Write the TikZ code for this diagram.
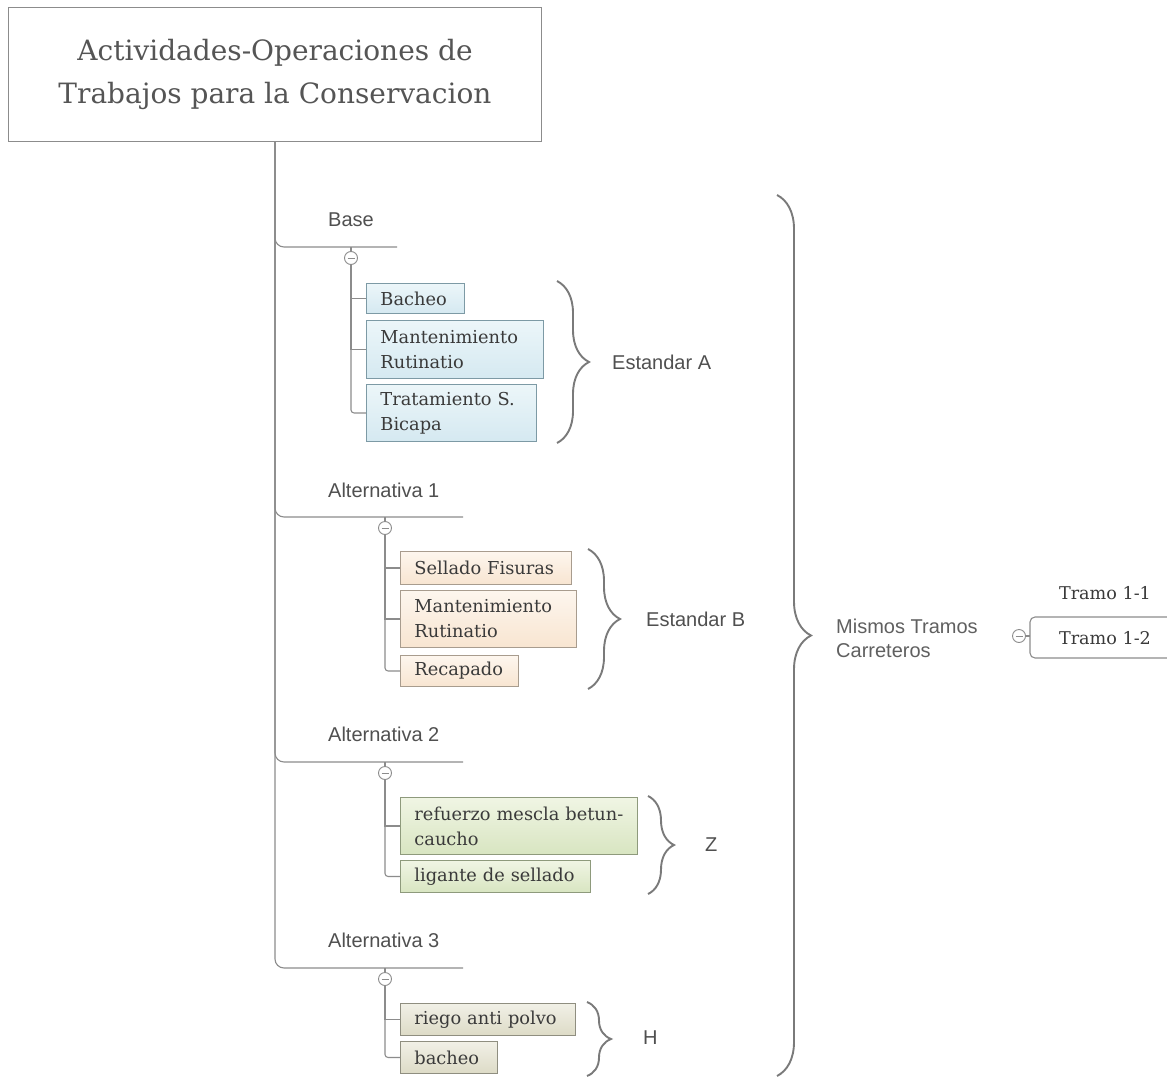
\documentclass[tikz,border=0pt]{standalone}
\usepackage{fontspec}
\setmainfont{DejaVu Serif}
\newfontfamily\sansf{Liberation Sans}
\usetikzlibrary{decorations.pathreplacing}
\definecolor{linec}{HTML}{8C8C8C}
\definecolor{txtc}{HTML}{3A3A3A}
\definecolor{labc}{HTML}{505050}
\definecolor{bracec}{HTML}{7A7A7A}
\definecolor{titlec}{HTML}{555555}
\definecolor{misc}{HTML}{606060}
\definecolor{bluebd}{HTML}{7D9AA5}
\definecolor{bluet}{HTML}{ECF6F9}
\definecolor{blueb}{HTML}{D5E9F1}
\definecolor{peachbd}{HTML}{A89C8E}
\definecolor{peacht}{HTML}{FDF6EE}
\definecolor{peachb}{HTML}{F8E5D1}
\definecolor{greenbd}{HTML}{8E9A7C}
\definecolor{greent}{HTML}{F0F5E4}
\definecolor{greenb}{HTML}{D8E5C1}
\definecolor{beigebd}{HTML}{8F8E80}
\definecolor{beiget}{HTML}{F1F0E6}
\definecolor{beigeb}{HTML}{DDDBC7}
\tikzset{
  conn/.style={draw=linec, line width=1.1pt},
  leaf/.style={anchor=north west, inner xsep=14pt, inner ysep=0pt, align=left,
    text=txtc, font=\fontsize{17.8}{25}\selectfont, line width=0.9pt},
  bluebox/.style={leaf, draw=bluebd, top color=bluet, bottom color=blueb},
  peachbox/.style={leaf, draw=peachbd, top color=peacht, bottom color=peachb},
  greenbox/.style={leaf, draw=greenbd, top color=greent, bottom color=greenb},
  beigebox/.style={leaf, draw=beigebd, top color=beiget, bottom color=beigeb},
  blab/.style={anchor=west, inner sep=0pt, text=labc, font=\sansf\fontsize{20}{24}\selectfont},
  toggle/.style={circle, draw=linec, fill=white, line width=0.9pt, minimum size=13pt, inner sep=0pt,
    path picture={\draw[linec, line width=0.9pt] ([xshift=-3.5pt]path picture bounding box.center) -- ([xshift=3.5pt]path picture bounding box.center);}},
  curly/.style={draw=bracec, line width=1.9pt, decorate, decoration={brace, amplitude=#1}},
}
\begin{document}
\begin{tikzpicture}[x=1pt, y=-1pt]
\useasboundingbox (0,0) rectangle (1167,1076);
\fill[white] (0,0) rectangle (1167,1076);

% title
\node[draw=linec, line width=1pt, fill=white, anchor=north west, minimum width=533pt, minimum height=134pt,
  inner sep=0pt, align=center, text=titlec, font=\fontsize{28}{43}\selectfont] (title) at (8,7)
  {Actividades-Operaciones de\\Trabajos para la Conservacion};

% branch labels
\node[blab] (base) at (328,220) {Base};
\node[blab] (alt1) at (328,490) {Alternativa 1};
\node[blab] (alt2) at (328,734) {Alternativa 2};
\node[blab] (alt3) at (328,940) {Alternativa 3};
\coordinate (eA) at (397,247);
\coordinate (eB) at (463,517);
\coordinate (eZ) at (463,762);
\coordinate (eH) at (463,968);

\draw[conn, rounded corners=9pt] (title.south) |- (eA);
\draw[conn, rounded corners=9pt] (title.south) |- (eB);
\draw[conn, rounded corners=9pt] (title.south) |- (eZ);
\draw[conn, rounded corners=9pt] (title.south) |- (eH);

% toggles
\node[toggle] (cA) at (351,258) {};
\node[toggle] (cB) at (385,528) {};
\node[toggle] (cZ) at (385,773) {};
\node[toggle] (cH) at (385,979) {};
\draw[conn] (cA) -- (cA |- eA);
\draw[conn] (cB) -- (cB |- eB);
\draw[conn] (cZ) -- (cZ |- eZ);
\draw[conn] (cH) -- (cH |- eH);

% group A
\node[bluebox, text width=70pt, minimum height=30pt] (a1) at (366,283) {Bacheo};
\node[bluebox, text width=149pt, minimum height=58pt] (a2) at (366,320) {Mantenimiento\\Rutinatio};
\node[bluebox, text width=142pt, minimum height=57pt] (a3) at (366,384) {Tratamiento S.\\Bicapa};
\draw[conn] (cA) |- (a1.west);
\draw[conn] (cA) |- (a2.west);
\draw[conn, rounded corners=3pt] (cA) |- (a3.west);

% group B
\node[peachbox, text width=143pt, minimum height=33pt] (b1) at (400,551) {Sellado Fisuras};
\node[peachbox, text width=148pt, minimum height=57pt] (b2) at (400,590) {Mantenimiento\\Rutinatio};
\node[peachbox, text width=90pt, minimum height=31pt] (b3) at (400,655) {Recapado};
\draw[conn] (cB) |- (b1.west);
\draw[conn] (cB) |- (b2.west);
\draw[conn, rounded corners=3pt] (cB) |- (b3.west);

% group Z
\node[greenbox, text width=209pt, minimum height=57pt] (z1) at (400,797) {refuerzo mescla betun-\\caucho};
\node[greenbox, text width=162pt, minimum height=32pt] (z2) at (400,860) {ligante de sellado};
\draw[conn] (cZ) |- (z1.west);
\draw[conn, rounded corners=3pt] (cZ) |- (z2.west);

% group H
\node[beigebox, text width=147pt, minimum height=32pt] (h1) at (400,1003) {riego anti polvo};
\node[beigebox, text width=69pt, minimum height=32pt] (h2) at (400,1041) {bacheo};
\draw[conn] (cH) |- (h1.west);
\draw[conn, rounded corners=3pt] (cH) |- (h2.west);

% braces
\coordinate (bAt) at (557,281); \coordinate (bAb) at (557,443);
\coordinate (bBt) at (588,549); \coordinate (bBb) at (588,689);
\coordinate (bZt) at (648,796); \coordinate (bZb) at (648,894);
\coordinate (bHt) at (587,1002); \coordinate (bHb) at (587,1076);
\coordinate (bMt) at (777,195); \coordinate (bMb) at (777,1076);
\draw[curly=32pt] (bAt) -- (bAb);
\draw[curly=32pt] (bBt) -- (bBb);
\draw[curly=26pt] (bZt) -- (bZb);
\draw[curly=24pt] (bHt) -- (bHb);
\draw[curly=34pt] (bMt) -- (bMb);

\node[blab] (estA) at (612,362) {Estandar A};
\node[blab] (estB) at (646,619) {Estandar B};
\node[blab] (zz) at (705,845) {Z};
\node[blab] (hh) at (643,1038) {H};
\node[blab, align=left, text=misc] (mis) at (836,638) {Mismos Tramos\\Carreteros};

% tramos
\node[toggle] (cT) at (1019,636) {};
\coordinate (tT) at (1167,617);
\coordinate (tB) at (1167,658);
\coordinate (tJ) at (1030,636);
\draw[conn] (cT) -- (tJ);
\draw[conn, rounded corners=5pt] (tT) -- (1030,617) -- (1030,658) -- (tB);
\node[anchor=center, text=txtc, font=\fontsize{17.6}{20}\selectfont] (t1) at (1105,593) {Tramo 1-1};
\node[anchor=center, text=txtc, font=\fontsize{17.6}{20}\selectfont] (t2) at (1105,638) {Tramo 1-2};
\end{tikzpicture}
\end{document}
